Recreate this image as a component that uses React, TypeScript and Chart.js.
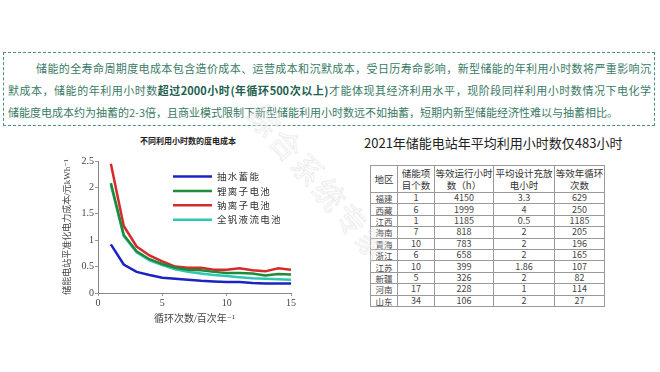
import React, { useEffect, useRef } from "react";
import { Chart, registerables } from "chart.js";

Chart.register(...registerables);

// ---- chart data ----
const cycleCounts = [1, 2, 3, 4, 5, 6, 7, 8, 9, 10, 11, 12, 13, 14, 15];
const pumpedHydro = [0.92, 0.54, 0.40, 0.34, 0.29, 0.27, 0.25, 0.23, 0.22, 0.21, 0.21, 0.19, 0.18, 0.18, 0.18];
const lithiumIon = [2.08, 1.10, 0.79, 0.64, 0.55, 0.48, 0.44, 0.43, 0.40, 0.38, 0.38, 0.37, 0.33, 0.36, 0.35];
const sodiumIon = [2.45, 1.27, 0.88, 0.71, 0.60, 0.50, 0.48, 0.48, 0.44, 0.44, 0.47, 0.43, 0.41, 0.47, 0.44];
const vanadiumFlow = [2.05, 1.08, 0.77, 0.62, 0.53, 0.45, 0.40, 0.37, 0.34, 0.32, 0.30, 0.28, 0.27, 0.26, 0.25];
const seriesLabels = ["抽水蓄能", "锂离子电池", "钠离子电池", "全钒液流电池"];
const seriesColors = ["#1c22c4", "#1f8a3c", "#d42a2a", "#2fc7b4"];
const chartTitle = "不同利用小时数的度电成本";
const xTitle = "循环次数/百次年⁻¹";
const yTitle = "储能电站平准化电力成本/元kWh⁻¹";

// ---- table data ----
const tableTitle = "2021年储能电站年平均利用小时数仅483小时";
const regions = ["福建", "西藏", "江西", "海南", "青海", "浙江", "江苏", "新疆", "河南", "山东"];
const projectCounts = ["1", "6", "1", "7", "10", "6", "10", "5", "17", "34"];
const runHours = ["4150", "1999", "1185", "818", "783", "658", "399", "326", "228", "106"];
const designHours = ["3.3", "4", "0.5", "2", "2", "2", "1.86", "2", "1", "2"];
const annualCycles = ["629", "250", "1185", "205", "196", "165", "107", "82", "114", "27"];

const CJK = '"Noto Sans CJK SC", "Noto Sans", sans-serif';
const SERIF = '"Liberation Serif", "DejaVu Serif", "Noto Sans CJK SC", serif';

const insideLegend = {
  id: "insideLegend",
  afterDatasetsDraw(chart: any) {
    const { ctx, chartArea } = chart;
    ctx.save();
    chart.data.datasets.forEach((ds: any, i: number) => {
      const y = chartArea.top + 15.5 + i * 14.4;
      ctx.strokeStyle = ds.borderColor;
      ctx.lineWidth = 2.5;
      ctx.beginPath();
      ctx.moveTo(chartArea.left + 75, y);
      ctx.lineTo(chartArea.left + 114, y);
      ctx.stroke();
      ctx.fillStyle = "#333";
      ctx.font = `9.5px ${CJK}`;
      try { (ctx as any).letterSpacing = "1.3px"; } catch (e) {}
      ctx.textBaseline = "middle";
      ctx.textAlign = "left";
      ctx.fillText(ds.label, chartArea.left + 119, y);
    });
    ctx.restore();
  },
};

function CostChart() {
  const ref = useRef<HTMLCanvasElement>(null);
  useEffect(() => {
    if (!ref.current) return;
    const series = [pumpedHydro, lithiumIon, sodiumIon, vanadiumFlow];
    const chart = new Chart(ref.current, {
      type: "line",
      data: {
        labels: cycleCounts,
        datasets: series.map((vals, i) => ({
          label: seriesLabels[i],
          data: vals.map((v, j) => ({ x: cycleCounts[j], y: v })),
          borderColor: seriesColors[i],
          backgroundColor: seriesColors[i],
          borderWidth: 2.5,
          pointRadius: 0,
          tension: 0,
          fill: false,
        })),
      },
      options: {
        responsive: false,
        animation: false,
        layout: { padding: { top: 11, right: 14, bottom: 0, left: 0 } },
        plugins: { legend: { display: false }, tooltip: { enabled: false }, title: { display: false } },
        scales: {
          x: {
            type: "linear",
            min: 0,
            max: 15,
            ticks: { stepSize: 5, color: "#444", font: { family: SERIF, size: 10 }, padding: 1, maxRotation: 0 },
            grid: { drawOnChartArea: false, drawTicks: true, tickLength: 3, color: "#999" },
            border: { color: "#888", width: 1 },
            title: { display: true, text: xTitle, color: "#444", font: { family: SERIF, size: 10 }, padding: { top: 0, bottom: 10 } },
            afterFit: (s: any) => { s.height = 42; },
          },
          y: {
            min: 0,
            max: 2.5,
            ticks: { stepSize: 0.5, color: "#444", font: { family: SERIF, size: 10 }, padding: 1, callback: (v: any) => String(v) },
            grid: { drawOnChartArea: false, drawTicks: true, tickLength: 3, color: "#999" },
            border: { color: "#888", width: 1 },
            title: { display: true, text: yTitle, color: "#444", font: { family: SERIF, size: 9 }, padding: { top: 42, bottom: 0 } },
            afterFit: (s: any) => { s.width = 78; },
          },
        },
      },
      plugins: [insideLegend],
    } as any);
    return () => chart.destroy();
  }, []);
  return <canvas ref={ref} width={285} height={185} style={{ position: "absolute", left: 20, top: 150, width: 285, height: 185 }} />;
}

const cell: React.CSSProperties = {
  border: "1px solid #9a9a9a",
  padding: 0,
  textAlign: "center",
  verticalAlign: "middle",
  fontSize: 9,
  lineHeight: "10px",
  color: "#444",
  height: 10.4,
  overflow: "hidden",
  whiteSpace: "nowrap",
};
const head: React.CSSProperties = { ...cell, fontSize: 9.5, lineHeight: "12px", height: 26, color: "#333" };

export default function App() {
  const colW = [27, 37, 59, 61, 50];
  return (
    <div style={{ position: "fixed", left: 0, top: 0, width: 660, height: 372, background: "#fff", overflow: "hidden", fontFamily: CJK }}>
      <div
        style={{
          position: "absolute", left: 3, top: 52, width: 652, height: 74, boxSizing: "border-box",
          border: "1.5px dashed #4f8f7c", padding: "4px 3px 0 4px", color: "#3a7a66", fontSize: 11,
        }}
      >
        <div style={{ height: 22, lineHeight: "22px", textAlign: "justify", textAlignLast: "justify", paddingLeft: 28, whiteSpace: "normal" } as any}>
          储能的全寿命周期度电成本包含造价成本、运营成本和沉默成本，受日历寿命影响，新型储能的年利用小时数将严重影响沉
        </div>
        <div style={{ height: 22, lineHeight: "22px", textAlign: "justify", textAlignLast: "justify" } as any}>
          默成本，储能的年利用小时数<b style={{ color: "#235f4f" }}>超过2000小时(年循环500次以上)</b>才能体现其经济利用水平，现阶段同样利用小时数情况下电化学
        </div>
        <div style={{ height: 22, lineHeight: "22px", textAlign: "left" }}>
          储能度电成本约为抽蓄的2-3倍，且商业模式限制下新型储能利用小时数远不如抽蓄，短期内新型储能经济性难以与抽蓄相比。
        </div>
      </div>

      <div style={{ position: "absolute", left: 140, top: 135, fontSize: 8, fontWeight: 700, color: "#222", whiteSpace: "nowrap" }}>{chartTitle}</div>
      <CostChart />

      <div style={{ position: "absolute", left: 364, top: 134, fontSize: 13, color: "#222", whiteSpace: "nowrap", lineHeight: "18px" }}>{tableTitle}</div>
      <table style={{ position: "absolute", left: 370, top: 165, borderCollapse: "collapse", tableLayout: "fixed", width: 234 }}>
        <colgroup>
          {colW.map((w, i) => <col key={i} style={{ width: w }} />)}
        </colgroup>
        <tbody>
          <tr>
            <td style={head}>地区</td>
            <td style={head}>储能项<br />目个数</td>
            <td style={head}>等效运行小时<br />数（h）</td>
            <td style={head}>平均设计充放<br />电小时</td>
            <td style={head}>等效年循环<br />次数</td>
          </tr>
          {regions.map((r, i) => (
            <tr key={r}>
              <td style={{ ...cell, fontSize: 8.5 }}>{r}</td>
              <td style={cell}>{projectCounts[i]}</td>
              <td style={cell}>{runHours[i]}</td>
              <td style={cell}>{designHours[i]}</td>
              <td style={cell}>{annualCycles[i]}</td>
            </tr>
          ))}
        </tbody>
      </table>

      <div
        style={{
          position: "absolute", left: 222, top: 160, fontSize: 30, whiteSpace: "nowrap", color: "transparent",
          WebkitTextStroke: "0.6px #e0e0e0", transform: "rotate(49deg)", transformOrigin: "center", pointerEvents: "none",
          fontFamily: CJK, letterSpacing: 3,
        } as any}
      >
        综合系统专家
      </div>
    </div>
  );
}
